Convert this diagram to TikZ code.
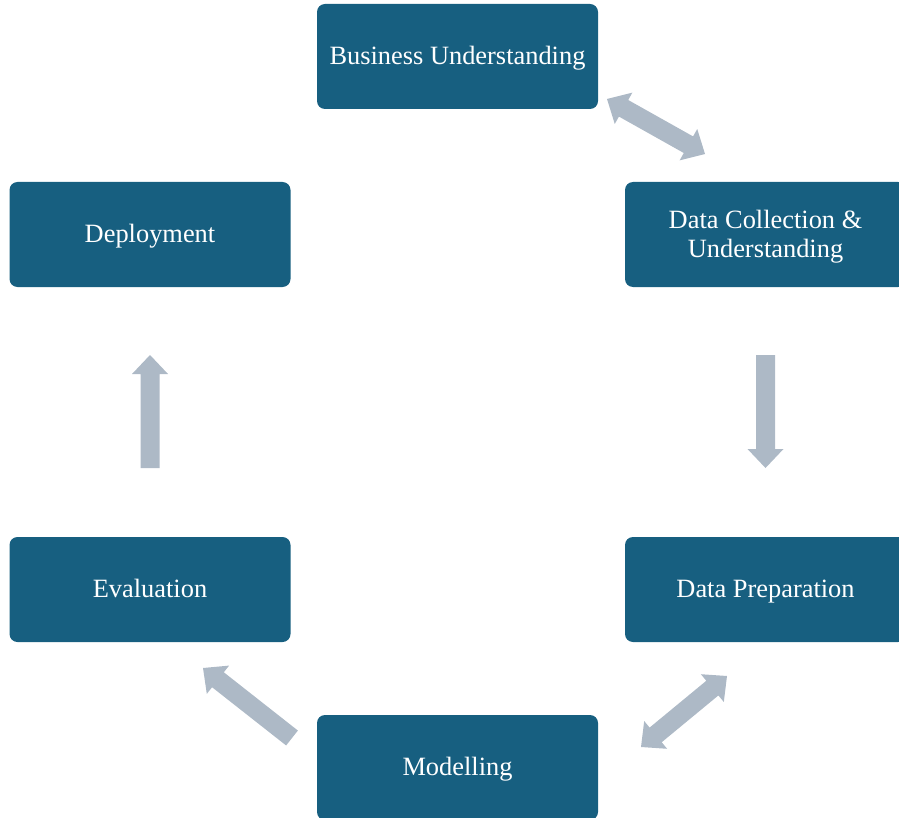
\documentclass[tikz,border=0pt]{standalone}
\usepackage{fontspec}
\setmainfont{Liberation Serif}
\usetikzlibrary{calc}
\definecolor{boxblue}{HTML}{175F80}
\definecolor{arrowgray}{HTML}{ADB9C6}
\tikzset{
  stagebox/.style={fill=boxblue, draw=none, rounded corners=8pt, minimum width=281pt, minimum height=105pt,
    text=white, align=center, inner sep=0pt, text height=18pt, text depth=2pt,
    font=\fontsize{26.4pt}{29pt}\selectfont},
  twolinebox/.style={stagebox, text height=47pt, text depth=0pt},
  blockarrow/.style={fill=arrowgray, draw=none}
}
% single-headed block arrow from #1 (tail) to #2 (tip)
\newcommand\singleblockarrow[2]{%
  \coordinate (hbA) at ($(#2)!19pt!(#1)$);
  \fill[blockarrow] ($(#1)!9.5pt!90:(#2)$) -- ($(hbA)!9.5pt!90:(#2)$) -- ($(hbA)!18pt!90:(#2)$) -- (#2)
    -- ($(hbA)!18pt!-90:(#2)$) -- ($(hbA)!9.5pt!-90:(#2)$) -- ($(#1)!9.5pt!-90:(#2)$) -- cycle;
}
% double-headed block arrow between #1 and #2
\newcommand\doubleblockarrow[2]{%
  \coordinate (hbA) at ($(#2)!19pt!(#1)$);
  \coordinate (hbB) at ($(#1)!19pt!(#2)$);
  \fill[blockarrow] (#1) -- ($(hbB)!18pt!-90:(#2)$) -- ($(hbB)!9.5pt!-90:(#2)$)
    -- ($(hbA)!9.5pt!90:(#1)$) -- ($(hbA)!18pt!90:(#1)$) -- (#2)
    -- ($(hbA)!18pt!-90:(#1)$) -- ($(hbA)!9.5pt!-90:(#1)$)
    -- ($(hbB)!9.5pt!90:(#2)$) -- ($(hbB)!18pt!90:(#2)$) -- cycle;
}
\begin{document}
\begin{tikzpicture}[x=1pt,y=-1pt]
  \useasboundingbox (0,0) rectangle (899,818);
  \clip (0,0) rectangle (899,818);
  \node[stagebox] (bu)  at (457.5,56.5)  {Business Understanding};
  \node[twolinebox] (dc)  at (765.5,234.5) {Data Collection \&\\Understanding};
  \node[stagebox] (dp)  at (765.5,589.5) {Data Preparation};
  \node[stagebox] (mod) at (457.5,767.5) {Modelling};
  \node[stagebox] (ev)  at (150,589.5)   {Evaluation};
  \node[stagebox] (dep) at (150,234.5)   {Deployment};

  \coordinate (a1s) at (607,99);
  \coordinate (a1e) at (705,154);
  \coordinate (a2s) at (765.5,355);
  \coordinate (a2e) at (765.5,468);
  \coordinate (a3s) at (727,676);
  \coordinate (a3e) at (641,747);
  \coordinate (a4s) at (292,738);
  \coordinate (a4e) at (203,668);
  \coordinate (a5s) at (150,468);
  \coordinate (a5e) at (150,355);

  \doubleblockarrow{a1s}{a1e}
  \singleblockarrow{a2s}{a2e}
  \doubleblockarrow{a3s}{a3e}
  \singleblockarrow{a4s}{a4e}
  \singleblockarrow{a5s}{a5e}
\end{tikzpicture}
\end{document}
